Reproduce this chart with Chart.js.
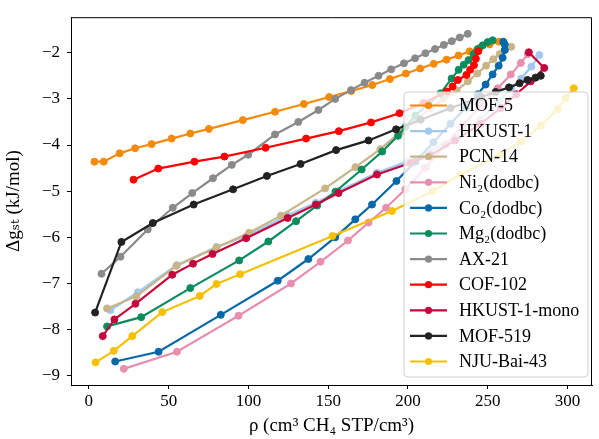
<!DOCTYPE html>
<html>
<head>
<meta charset="utf-8">
<script src="https://cdn.jsdelivr.net/npm/chart.js@4.4.1/dist/chart.umd.min.js"></script>
<style>
html,body{margin:0;padding:0;background:#fff;}
canvas{display:block;}
</style>
</head>
<body>
<canvas id="c" width="599" height="439"></canvas>
<script>
// ---- data (rho in cm3 CH4 STP/cm3, dg in kJ/mol) ----
const seriesNames = ["MOF-5","HKUST-1","PCN-14","Ni\u2082(dodbc)","Co\u2082(dodbc)","Mg\u2082(dodbc)","AX-21","COF-102","HKUST-1-mono","MOF-519","NJU-Bai-43"];

const rhoMOF5 = [3.5, 9.3, 19.3, 29.0, 39.3, 51.9, 63.6, 75.2, 96.5, 116.7, 134.8, 150.6, 164.5, 177.7, 188.7, 198.7, 207.7, 216.2, 224.2, 231.7, 238.7, 245.2, 251.2, 257.0];
const dgMOF5  = [-4.36, -4.36, -4.18, -4.07, -3.98, -3.86, -3.75, -3.65, -3.46, -3.28, -3.11, -2.96, -2.83, -2.70, -2.57, -2.45, -2.34, -2.24, -2.15, -2.06, -1.97, -1.89, -1.82, -1.76];

const rhoHKUST1 = [13.5, 30.7, 55.2, 80.0, 99.0, 124.6, 142.3, 156.5, 180.6, 199.5, 214.0, 229.6, 245.6, 256.0, 264.8, 271.0, 277.4, 282.4];
const dgHKUST1  = [-7.58, -7.19, -6.60, -6.21, -5.97, -5.52, -5.25, -5.00, -4.60, -4.36, -4.13, -3.82, -3.45, -3.10, -2.77, -2.56, -2.30, -2.05];

const rhoPCN14 = [11.4, 29.7, 54.8, 80.0, 100.5, 120.4, 148.1, 167.1, 182.7, 195.3, 205.0, 214.0, 222.5, 230.5, 237.6, 243.5, 249.0, 253.5, 257.5, 261.0, 264.8];
const dgPCN14  = [-7.54, -7.28, -6.62, -6.22, -5.90, -5.53, -4.94, -4.48, -4.09, -3.72, -3.46, -3.20, -3.00, -2.82, -2.62, -2.45, -2.28, -2.14, -2.03, -1.94, -1.87];

const rhoNi = [21.9, 55.2, 93.8, 126.7, 145.2, 162.4, 175.3, 186.3, 198.4, 210.9, 223.5, 234.3, 245.6, 256.3, 264.5, 270.8, 275.2];
const dgNi  = [-8.85, -8.48, -7.70, -7.00, -6.53, -6.07, -5.68, -5.36, -4.96, -4.49, -4.00, -3.58, -3.15, -2.77, -2.47, -2.22, -2.03];

const rhoCo = [16.5, 43.7, 82.7, 118.4, 137.6, 154.4, 167.0, 177.5, 192.8, 204.7, 216.0, 226.7, 236.2, 243.7, 248.7, 253.1, 256.9, 259.4, 260.7, 260.7, 259.8];
const dgCo  = [-8.69, -8.48, -7.68, -6.94, -6.47, -6.00, -5.61, -5.29, -4.78, -4.36, -3.94, -3.54, -3.19, -2.90, -2.69, -2.47, -2.28, -2.11, -1.94, -1.82, -1.76];

const rhoMg = [11.4, 32.8, 63.6, 94.2, 112.5, 129.9, 143.1, 154.6, 171.0, 183.9, 193.8, 198.4, 204.7, 212.9, 220.4, 227.4, 231.8, 235.0, 238.0, 241.2, 243.7, 246.9, 250.0, 253.1];
const dgMg  = [-7.93, -7.73, -7.10, -6.50, -6.09, -5.65, -5.31, -5.01, -4.53, -4.14, -3.80, -3.61, -3.36, -3.11, -2.88, -2.56, -2.37, -2.26, -2.16, -2.03, -1.92, -1.84, -1.77, -1.73];

const rhoAX21 = [7.9, 19.8, 36.9, 52.6, 64.8, 77.8, 89.6, 99.9, 116.7, 131.3, 143.9, 154.4, 164.3, 172.8, 181.6, 189.5, 197.5, 204.5, 211.0, 217.0, 222.5, 227.5, 232.5, 237.5];
const dgAX21  = [-6.79, -6.42, -5.83, -5.36, -5.04, -4.72, -4.43, -4.21, -3.77, -3.50, -3.24, -3.00, -2.81, -2.65, -2.50, -2.36, -2.23, -2.12, -2.01, -1.92, -1.83, -1.75, -1.67, -1.59];

const rhoCOF102 = [28.0, 43.5, 66.2, 85.0, 110.8, 136.2, 156.7, 176.9, 194.7, 209.8, 224.5, 228.0, 231.3, 236.7, 239.0, 241.4, 242.6, 244.1];
const dgCOF102  = [-4.75, -4.51, -4.36, -4.25, -4.06, -3.86, -3.70, -3.51, -3.31, -3.09, -2.84, -2.73, -2.59, -2.48, -2.37, -2.27, -2.13, -1.97];

const rhoMono = [8.7, 16.0, 29.2, 52.3, 65.3, 77.5, 98.6, 124.6, 142.3, 156.5, 180.6, 201.6, 214.0, 229.6, 245.6, 258.2, 268.0, 277.0, 285.5, 275.8];
const dgMono  = [-8.14, -7.78, -7.44, -6.81, -6.57, -6.36, -6.02, -5.58, -5.29, -5.04, -4.64, -4.39, -4.22, -3.90, -3.54, -3.20, -2.90, -2.62, -2.33, -1.99];

const rhoMOF519 = [3.9, 20.4, 40.1, 65.7, 90.4, 111.6, 132.7, 155.0, 175.3, 192.6, 208.0, 226.7, 245.9, 255.0, 263.4, 270.0, 275.0, 280.0, 283.3];
const dgMOF519  = [-7.63, -6.10, -5.69, -5.29, -4.96, -4.67, -4.41, -4.11, -3.90, -3.66, -3.45, -3.20, -2.96, -2.85, -2.75, -2.66, -2.59, -2.54, -2.50];

const rhoNJU = [4.2, 15.6, 27.2, 46.0, 69.5, 80.0, 94.8, 152.7, 190.0, 215.5, 233.0, 258.0, 270.8, 283.3, 294.0, 299.0, 304.0];
const dgNJU  = [-8.71, -8.46, -8.14, -7.62, -7.27, -7.01, -6.80, -5.97, -5.43, -5.00, -4.64, -4.21, -3.92, -3.58, -3.22, -2.98, -2.77];

const xTicks = [0, 50, 100, 150, 200, 250, 300];
const yTicks = [-9, -8, -7, -6, -5, -4, -3, -2];

const seriesRho = [rhoMOF5, rhoHKUST1, rhoPCN14, rhoNi, rhoCo, rhoMg, rhoAX21, rhoCOF102, rhoMono, rhoMOF519, rhoNJU];
const seriesDg  = [dgMOF5, dgHKUST1, dgPCN14, dgNi, dgCo, dgMg, dgAX21, dgCOF102, dgMono, dgMOF519, dgNJU];

// ---- styles ----
const seriesColors = ['#f5890a','#a2c8ee','#c8b486','#e88fb0','#0668a8','#0a8c5c','#8a8a8a','#ff0000','#c4063c','#222222','#f5c000'];
const SERIF = '"Liberation Serif", "DejaVu Serif", serif';

const datasets = seriesNames.map((name, i) => ({
  label: name,
  data: seriesRho[i].map((x, k) => ({x: x, y: seriesDg[i][k]})),
  showLine: true,
  borderColor: seriesColors[i],
  backgroundColor: seriesColors[i],
  borderWidth: 2.2,
  pointRadius: 3.5,
  pointBorderWidth: 1,
  pointBorderColor: seriesColors[i],
  pointBackgroundColor: seriesColors[i],
  order: seriesNames.length - i
}));

const minus = v => (v < 0 ? '\u2212' : '') + Math.abs(v);

const framePlugin = {
  id: 'frame',
  afterDraw(chart) {
    const ctx = chart.ctx, a = chart.chartArea;
    ctx.save();
    ctx.strokeStyle = '#000';
    ctx.lineWidth = 1;
    ctx.beginPath();
    ctx.moveTo(a.left, a.top + 0.5);
    ctx.lineTo(a.right - 0.5, a.top + 0.5);
    ctx.lineTo(a.right - 0.5, a.bottom);
    ctx.stroke();
    ctx.restore();

    // legend
    const bx = 404, by = 92, bw = 184, bh = 285, r = 4;
    ctx.save();
    ctx.beginPath();
    ctx.moveTo(bx + r, by);
    ctx.arcTo(bx + bw, by, bx + bw, by + bh, r);
    ctx.arcTo(bx + bw, by + bh, bx, by + bh, r);
    ctx.arcTo(bx, by + bh, bx, by, r);
    ctx.arcTo(bx, by, bx + bw, by, r);
    ctx.closePath();
    ctx.fillStyle = 'rgba(255,255,255,0.8)';
    ctx.fill();
    ctx.strokeStyle = '#d0d0d0';
    ctx.lineWidth = 1;
    ctx.stroke();
    ctx.font = '18px ' + SERIF;
    ctx.textBaseline = 'middle';
    ctx.textAlign = 'left';
    seriesNames.forEach((name, i) => {
      const y = 105.5 + i * 25.6;
      ctx.strokeStyle = seriesColors[i];
      ctx.fillStyle = seriesColors[i];
      ctx.lineWidth = 2.2;
      ctx.beginPath();
      ctx.moveTo(410, y);
      ctx.lineTo(447, y);
      ctx.stroke();
      ctx.beginPath();
      ctx.arc(428.5, y, 3.6, 0, Math.PI * 2);
      ctx.fill();
      ctx.fillStyle = '#000';
      ctx.fillText(name, 459, y + 1);
    });
    ctx.restore();
  }
};

new Chart(document.getElementById('c'), {
  type: 'scatter',
  data: { datasets },
  options: {
    responsive: false,
    animation: false,
    layout: { padding: { top: 9, right: 7, left: 0, bottom: 0 } },
    plugins: { legend: { display: false }, tooltip: { enabled: false } },
    scales: {
      x: {
        type: 'linear', min: -11.2, max: 315.4,
        afterBuildTicks(s) { s.ticks = xTicks.map(v => ({ value: v })); },
        afterFit(s) { s.height = 54; },
        ticks: { color: '#000', font: { family: SERIF, size: 17 }, padding: 2, maxRotation: 0, callback: minus },
        grid: { drawOnChartArea: false, drawTicks: true, tickLength: 4, color: '#000' },
        border: { color: '#000', width: 1 },
        title: { display: true, text: '\u03C1 (cm\u00B3 CH\u2084 STP/cm\u00B3)', color: '#000', font: { family: SERIF, size: 19 }, padding: { top: 0, bottom: 2 } }
      },
      y: {
        type: 'linear', min: -9.2, max: -1.23,
        afterBuildTicks(s) { s.ticks = yTicks.map(v => ({ value: v })); },
        afterFit(s) { s.width = 71; },
        ticks: { color: '#000', font: { family: SERIF, size: 17 }, padding: 7, callback: minus },
        grid: { drawOnChartArea: false, drawTicks: true, tickLength: 4, color: '#000' },
        border: { color: '#000', width: 1 },
        title: { display: true, text: '\u0394g\u209B\u209C (kJ/mol)', color: '#000', font: { family: SERIF, size: 19 }, padding: { top: 3, bottom: 0 } }
      }
    }
  },
  plugins: [framePlugin]
});
</script>
</body>
</html>
